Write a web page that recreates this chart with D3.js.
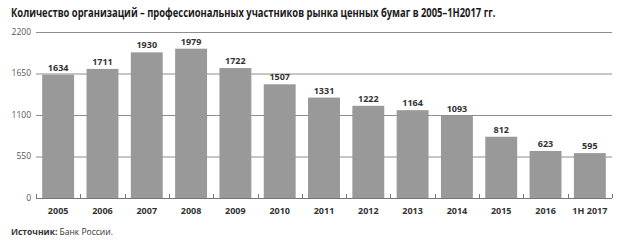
<!DOCTYPE html>
<html>
<head>
<meta charset="utf-8">
<script src="https://cdn.jsdelivr.net/npm/d3@7"></script>
<style>
  body { margin: 0; background: #fff; }
  svg text { font-family: "Open Sans", "Noto Sans", sans-serif; }
</style>
</head>
<body>
<svg id="chart" width="624" height="244"></svg>
<script>
const years = ['2005', '2006', '2007', '2008', '2009', '2010', '2011', '2012', '2013', '2014', '2015', '2016', '1H 2017'];
const counts = [1634, 1711, 1930, 1979, 1722, 1507, 1331, 1222, 1164, 1093, 812, 623, 595];
const yTicks = [0, 550, 1100, 1650, 2200];

const svg = d3.select('#chart');
const margin = { top: 32, right: 12, bottom: 46, left: 36 };
const width = 624 - margin.left - margin.right;
const height = 244 - margin.top - margin.bottom;

const x = d3.scaleBand().domain(years).range([0, width]).paddingInner(0.28).paddingOuter(0.14);
const y = d3.scaleLinear().domain([0, 2200]).range([height, 0]);

// title: the source uses a condensed face, so squeeze it horizontally
const titleG = svg.append('g');
const title = titleG.append('text')
    .attr('x', 0)
    .attr('y', 0)
    .attr('font-size', 12.5)
    .attr('font-weight', 700)
    .attr('fill', '#1a1a1a')
    .text('Количество организаций – профессиональных участников рынка ценных бумаг в 2005–1H2017 гг.');
const sx = Math.min(1, 485 / title.node().getComputedTextLength());
titleG.attr('transform', `translate(11,17) scale(${sx},1)`);

const g = svg.append('g').attr('transform', `translate(${margin.left},${margin.top})`);

// gridlines
g.selectAll('.grid')
    .data(yTicks.filter((d) => d > 0))
    .join('line')
    .attr('x1', 0)
    .attr('x2', width)
    .attr('y1', (d) => y(d) + 0.5)
    .attr('y2', (d) => y(d) + 0.5)
    .attr('stroke', '#8c8c8c')
    .attr('stroke-width', 1);

// y labels
g.selectAll('.ylab')
    .data(yTicks)
    .join('text')
    .attr('x', -5)
    .attr('y', (d) => y(d))
    .attr('dy', '0.35em')
    .attr('text-anchor', 'end')
    .attr('font-size', 8.5)
    .attr('fill', '#555')
    .text((d) => d);

// bars
g.selectAll('.bar')
    .data(counts)
    .join('rect')
    .attr('x', (d, i) => x(years[i]))
    .attr('y', (d) => y(d))
    .attr('width', x.bandwidth())
    .attr('height', (d) => height - y(d))
    .attr('fill', '#999999');

// values
g.selectAll('.val')
    .data(counts)
    .join('text')
    .attr('x', (d, i) => x(years[i]) + x.bandwidth() / 2)
    .attr('y', (d) => y(d) - 4)
    .attr('text-anchor', 'middle')
    .attr('font-size', 9)
    .attr('font-weight', 700)
    .attr('fill', '#333')
    .text((d) => d);

// baseline and ticks between bands
g.append('line')
    .attr('x1', 0)
    .attr('x2', width)
    .attr('y1', height + 0.5)
    .attr('y2', height + 0.5)
    .attr('stroke', '#777');

const bounds = [0].concat(years.map((d) => x(d) + x.bandwidth() + x.step() * x.paddingInner() / 2));
bounds[bounds.length - 1] = width;
g.selectAll('.tick')
    .data(bounds)
    .join('line')
    .attr('x1', (d) => Math.round(d) + 0.5)
    .attr('x2', (d) => Math.round(d) + 0.5)
    .attr('y1', height - 4)
    .attr('y2', height)
    .attr('stroke', '#777');

// category labels
g.selectAll('.xlab')
    .data(years)
    .join('text')
    .attr('x', (d) => x(d) + x.bandwidth() / 2)
    .attr('y', height + 16)
    .attr('text-anchor', 'middle')
    .attr('font-size', 9)
    .attr('font-weight', 700)
    .attr('fill', '#333')
    .text((d) => d);

// source
const src = svg.append('text')
    .attr('x', 11)
    .attr('y', 235)
    .attr('font-size', 8.5)
    .attr('fill', '#333');
src.append('tspan').attr('font-weight', 700).text('Источник:');
src.append('tspan').text(' Банк России.');
</script>
</body>
</html>
